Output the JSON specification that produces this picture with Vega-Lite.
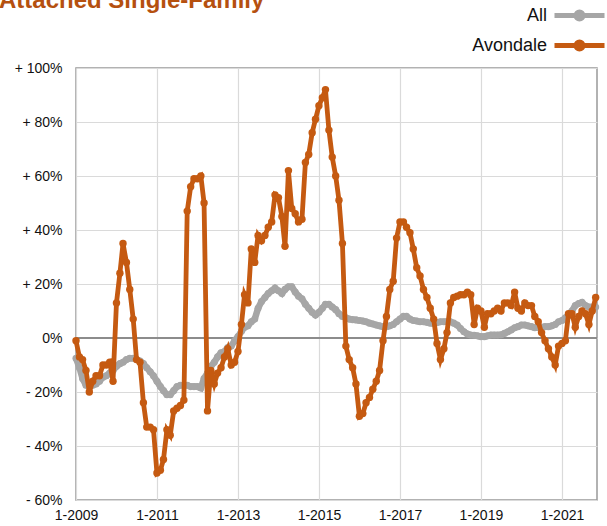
{
  "$schema": "https://vega.github.io/schema/vega-lite/v6.json",
  "width": 521,
  "height": 432,
  "autosize": {"type": "none"},
  "padding": {"left": 76, "top": 68, "right": 10, "bottom": 26},
  "background": "white",
  "config": {"view": {"stroke": "#999999", "strokeWidth": 1.5}, "font": "Liberation Sans"},
  "title": {"text": "Attached Single-Family", "anchor": "start", "frame": "group", "fontSize": 24, "fontWeight": "bold", "color": "#b5500f", "font": "Liberation Sans", "dx": -77, "offset": 0, "dy": 10},
  "data": {"values": [
    {"date": "2009-01-01", "All": -7.5, "Avondale": -1},
    {"date": "2009-02-01", "All": -11, "Avondale": -7},
    {"date": "2009-03-01", "All": -15, "Avondale": -8},
    {"date": "2009-04-01", "All": -17.5, "Avondale": -12},
    {"date": "2009-05-01", "All": -18, "Avondale": -20},
    {"date": "2009-06-01", "All": -17.5, "Avondale": -16},
    {"date": "2009-07-01", "All": -17, "Avondale": -14},
    {"date": "2009-08-01", "All": -16, "Avondale": -14},
    {"date": "2009-09-01", "All": -14.5, "Avondale": -10},
    {"date": "2009-10-01", "All": -14, "Avondale": -10},
    {"date": "2009-11-01", "All": -13, "Avondale": -9},
    {"date": "2009-12-01", "All": -12, "Avondale": -16},
    {"date": "2010-01-01", "All": -10.5, "Avondale": 13},
    {"date": "2010-02-01", "All": -9.5, "Avondale": 24},
    {"date": "2010-03-01", "All": -9, "Avondale": 35},
    {"date": "2010-04-01", "All": -8, "Avondale": 28},
    {"date": "2010-05-01", "All": -7.5, "Avondale": 18},
    {"date": "2010-06-01", "All": -7.5, "Avondale": 7},
    {"date": "2010-07-01", "All": -8, "Avondale": -8},
    {"date": "2010-08-01", "All": -8.5, "Avondale": -9},
    {"date": "2010-09-01", "All": -9.5, "Avondale": -24},
    {"date": "2010-10-01", "All": -11, "Avondale": -33},
    {"date": "2010-11-01", "All": -12.5, "Avondale": -33},
    {"date": "2010-12-01", "All": -14, "Avondale": -34},
    {"date": "2011-01-01", "All": -16, "Avondale": -50},
    {"date": "2011-02-01", "All": -18, "Avondale": -49},
    {"date": "2011-03-01", "All": -19.5, "Avondale": -45},
    {"date": "2011-04-01", "All": -21, "Avondale": -34},
    {"date": "2011-05-01", "All": -21, "Avondale": -36},
    {"date": "2011-06-01", "All": -19.5, "Avondale": -27},
    {"date": "2011-07-01", "All": -18, "Avondale": -26},
    {"date": "2011-08-01", "All": -17.5, "Avondale": -25},
    {"date": "2011-09-01", "All": -17.5, "Avondale": -23},
    {"date": "2011-10-01", "All": -17.5, "Avondale": 47},
    {"date": "2011-11-01", "All": -18, "Avondale": 56},
    {"date": "2011-12-01", "All": -18, "Avondale": 59},
    {"date": "2012-01-01", "All": -18, "Avondale": 59},
    {"date": "2012-02-01", "All": -18.5, "Avondale": 60},
    {"date": "2012-03-01", "All": -15, "Avondale": 50},
    {"date": "2012-04-01", "All": -13, "Avondale": -27},
    {"date": "2012-05-01", "All": -10.5, "Avondale": -12},
    {"date": "2012-06-01", "All": -9, "Avondale": -17},
    {"date": "2012-07-01", "All": -7, "Avondale": -13},
    {"date": "2012-08-01", "All": -5.5, "Avondale": -11},
    {"date": "2012-09-01", "All": -5, "Avondale": -7},
    {"date": "2012-10-01", "All": -3.5, "Avondale": -4},
    {"date": "2012-11-01", "All": -3, "Avondale": -10},
    {"date": "2012-12-01", "All": -1, "Avondale": -9},
    {"date": "2013-01-01", "All": 0.5, "Avondale": -5},
    {"date": "2013-02-01", "All": 2.5, "Avondale": 5},
    {"date": "2013-03-01", "All": 4, "Avondale": 16},
    {"date": "2013-04-01", "All": 4.5, "Avondale": 13},
    {"date": "2013-05-01", "All": 6, "Avondale": 33},
    {"date": "2013-06-01", "All": 7, "Avondale": 28},
    {"date": "2013-07-01", "All": 11, "Avondale": 38},
    {"date": "2013-08-01", "All": 13.5, "Avondale": 36},
    {"date": "2013-09-01", "All": 15, "Avondale": 38},
    {"date": "2013-10-01", "All": 16.5, "Avondale": 41},
    {"date": "2013-11-01", "All": 17.5, "Avondale": 43},
    {"date": "2013-12-01", "All": 18.5, "Avondale": 53},
    {"date": "2014-01-01", "All": 17.5, "Avondale": 52},
    {"date": "2014-02-01", "All": 16.5, "Avondale": 45},
    {"date": "2014-03-01", "All": 18, "Avondale": 34},
    {"date": "2014-04-01", "All": 19, "Avondale": 62},
    {"date": "2014-05-01", "All": 19, "Avondale": 48},
    {"date": "2014-06-01", "All": 17, "Avondale": 46},
    {"date": "2014-07-01", "All": 15.5, "Avondale": 43},
    {"date": "2014-08-01", "All": 14.5, "Avondale": 44},
    {"date": "2014-09-01", "All": 12.5, "Avondale": 65},
    {"date": "2014-10-01", "All": 11, "Avondale": 68},
    {"date": "2014-11-01", "All": 9.5, "Avondale": 76},
    {"date": "2014-12-01", "All": 8.5, "Avondale": 81},
    {"date": "2015-01-01", "All": 9.5, "Avondale": 86},
    {"date": "2015-02-01", "All": 11, "Avondale": 89},
    {"date": "2015-03-01", "All": 12.5, "Avondale": 92},
    {"date": "2015-04-01", "All": 12.5, "Avondale": 77},
    {"date": "2015-05-01", "All": 11.5, "Avondale": 67},
    {"date": "2015-06-01", "All": 10.5, "Avondale": 60},
    {"date": "2015-07-01", "All": 9, "Avondale": 51},
    {"date": "2015-08-01", "All": 8, "Avondale": 35},
    {"date": "2015-09-01", "All": 7.5, "Avondale": -3},
    {"date": "2015-10-01", "All": 7, "Avondale": -8},
    {"date": "2015-11-01", "All": 6.8, "Avondale": -11},
    {"date": "2015-12-01", "All": 6.7, "Avondale": -17},
    {"date": "2016-01-01", "All": 6.5, "Avondale": -29},
    {"date": "2016-02-01", "All": 6.3, "Avondale": -28},
    {"date": "2016-03-01", "All": 6, "Avondale": -24},
    {"date": "2016-04-01", "All": 5.5, "Avondale": -22},
    {"date": "2016-05-01", "All": 5.2, "Avondale": -19},
    {"date": "2016-06-01", "All": 4.8, "Avondale": -16},
    {"date": "2016-07-01", "All": 4.5, "Avondale": -12},
    {"date": "2016-08-01", "All": 4.2, "Avondale": -1},
    {"date": "2016-09-01", "All": 4.2, "Avondale": 8},
    {"date": "2016-10-01", "All": 4.5, "Avondale": 18},
    {"date": "2016-11-01", "All": 5, "Avondale": 21},
    {"date": "2016-12-01", "All": 6, "Avondale": 37},
    {"date": "2017-01-01", "All": 7, "Avondale": 43},
    {"date": "2017-02-01", "All": 8, "Avondale": 43},
    {"date": "2017-03-01", "All": 8, "Avondale": 41},
    {"date": "2017-04-01", "All": 7, "Avondale": 39},
    {"date": "2017-05-01", "All": 6.5, "Avondale": 33},
    {"date": "2017-06-01", "All": 6.3, "Avondale": 26},
    {"date": "2017-07-01", "All": 6, "Avondale": 23},
    {"date": "2017-08-01", "All": 6, "Avondale": 18},
    {"date": "2017-09-01", "All": 5.8, "Avondale": 15},
    {"date": "2017-10-01", "All": 5.5, "Avondale": 11},
    {"date": "2017-11-01", "All": 5.4, "Avondale": 7},
    {"date": "2017-12-01", "All": 5.7, "Avondale": -2},
    {"date": "2018-01-01", "All": 6, "Avondale": -8},
    {"date": "2018-02-01", "All": 6, "Avondale": -4},
    {"date": "2018-03-01", "All": 6, "Avondale": 2},
    {"date": "2018-04-01", "All": 6, "Avondale": 13},
    {"date": "2018-05-01", "All": 5.5, "Avondale": 15},
    {"date": "2018-06-01", "All": 4.8, "Avondale": 15.5},
    {"date": "2018-07-01", "All": 3.5, "Avondale": 16},
    {"date": "2018-08-01", "All": 2.3, "Avondale": 16},
    {"date": "2018-09-01", "All": 1.5, "Avondale": 17},
    {"date": "2018-10-01", "All": 1.1, "Avondale": 16},
    {"date": "2018-11-01", "All": 1, "Avondale": 5},
    {"date": "2018-12-01", "All": 0.8, "Avondale": 11},
    {"date": "2019-01-01", "All": 0.5, "Avondale": 10},
    {"date": "2019-02-01", "All": 0.5, "Avondale": 4},
    {"date": "2019-03-01", "All": 0.8, "Avondale": 9},
    {"date": "2019-04-01", "All": 1.1, "Avondale": 9},
    {"date": "2019-05-01", "All": 1.1, "Avondale": 10},
    {"date": "2019-06-01", "All": 1.1, "Avondale": 11},
    {"date": "2019-07-01", "All": 1.2, "Avondale": 10},
    {"date": "2019-08-01", "All": 1.7, "Avondale": 13},
    {"date": "2019-09-01", "All": 2.3, "Avondale": 13},
    {"date": "2019-10-01", "All": 3, "Avondale": 12},
    {"date": "2019-11-01", "All": 3.8, "Avondale": 17},
    {"date": "2019-12-01", "All": 4.2, "Avondale": 11},
    {"date": "2020-01-01", "All": 4.8, "Avondale": 10},
    {"date": "2020-02-01", "All": 4.8, "Avondale": 13},
    {"date": "2020-03-01", "All": 4.5, "Avondale": 12},
    {"date": "2020-04-01", "All": 4.2, "Avondale": 12},
    {"date": "2020-05-01", "All": 3.8, "Avondale": 8},
    {"date": "2020-06-01", "All": 3.8, "Avondale": 6},
    {"date": "2020-07-01", "All": 4, "Avondale": 2},
    {"date": "2020-08-01", "All": 4.2, "Avondale": -1},
    {"date": "2020-09-01", "All": 4.2, "Avondale": -4},
    {"date": "2020-10-01", "All": 4.5, "Avondale": -7},
    {"date": "2020-11-01", "All": 5, "Avondale": -10},
    {"date": "2020-12-01", "All": 6, "Avondale": -3},
    {"date": "2021-01-01", "All": 6.5, "Avondale": -2},
    {"date": "2021-02-01", "All": 7.5, "Avondale": -1},
    {"date": "2021-03-01", "All": 8.2, "Avondale": 9},
    {"date": "2021-04-01", "All": 10, "Avondale": 9},
    {"date": "2021-05-01", "All": 12, "Avondale": 4},
    {"date": "2021-06-01", "All": 12.8, "Avondale": 8},
    {"date": "2021-07-01", "All": 13.2, "Avondale": 10},
    {"date": "2021-08-01", "All": 12, "Avondale": 9},
    {"date": "2021-09-01", "All": 11.5, "Avondale": 5},
    {"date": "2021-10-01", "All": 11.5, "Avondale": 10},
    {"date": "2021-11-01", "All": 11.5, "Avondale": 15}
  ]},
  "transform": [{"fold": ["All", "Avondale"], "as": ["series", "v"]}],
  "layer": [
    {
      "data": {"values": [{}]},
      "mark": {"type": "rule", "color": "#8c8c8c", "strokeWidth": 2},
      "encoding": {
        "y": {"datum": 0, "type": "quantitative", "scale": {"domain": [-60, 100], "nice": false},
          "axis": {"values": [-60, -40, -20, 0, 20, 40, 60, 80, 100], "labelExpr": "datum.value > 0 ? '+ ' + datum.value + '%' : (datum.value < 0 ? '- ' + abs(datum.value) + '%' : '0%')", "labelFontSize": 14, "labelColor": "#111111", "labelPadding": 14, "grid": true, "gridColor": "#dadada", "gridWidth": 1.2, "ticks": false, "domain": false, "title": null}}
      }
    },
    {
      "transform": [{"filter": "datum.series === 'All'"}],
      "mark": {"type": "line", "strokeWidth": 6.5, "point": {"filled": true, "size": 50, "opacity": 1}},
      "encoding": {
        "x": {"field": "date", "type": "temporal", "scale": {"type": "utc", "domain": [{"year": 2009, "month": 1, "date": 1, "utc": true}, {"year": 2021, "month": 11, "date": 13, "utc": true}]},
          "axis": {"values": [{"year": 2009, "month": 1, "date": 1, "utc": true}, {"year": 2011, "month": 1, "date": 1, "utc": true}, {"year": 2013, "month": 1, "date": 1, "utc": true}, {"year": 2015, "month": 1, "date": 1, "utc": true}, {"year": 2017, "month": 1, "date": 1, "utc": true}, {"year": 2019, "month": 1, "date": 1, "utc": true}, {"year": 2021, "month": 1, "date": 1, "utc": true}], "labelExpr": "utcFormat(datum.value, '%-m-%Y')", "labelFontSize": 14, "labelColor": "#111111", "labelPadding": 8, "labelFlush": false, "labelOverlap": false, "grid": true, "gridColor": "#dadada", "gridWidth": 1.2, "ticks": false, "domain": false, "title": null}},
        "y": {"field": "v", "type": "quantitative", "title": null},
        "color": {"field": "series", "type": "nominal", "scale": {"domain": ["All", "Avondale"], "range": ["#a6a6a6", "#c55a11"]},
          "legend": {"orient": "none", "legendX": 491, "legendY": -65, "title": null, "labelFontSize": 18, "labelColor": "#111111", "labelAlign": "right", "labelOffset": -45, "symbolType": "M-2.5,0L2.5,0M-0.35,0A0.35,0.35,0,1,1,0.35,0A0.35,0.35,0,1,1,-0.35,0", "symbolSize": 400, "symbolStrokeWidth": 5, "rowPadding": 3, "symbolOpacity": 1,
            "encode": {"symbols": {"update": {"fill": {"scale": "color", "field": "value"}, "stroke": {"scale": "color", "field": "value"}}}}}}
      }
    },
    {
      "transform": [{"filter": "datum.series === 'Avondale'"}],
      "mark": {"type": "line", "strokeWidth": 4.8, "point": {"filled": true, "size": 55, "opacity": 1}},
      "encoding": {
        "x": {"field": "date", "type": "temporal"},
        "y": {"field": "v", "type": "quantitative", "title": null},
        "color": {"field": "series", "type": "nominal"}
      }
    }
  ]
}
